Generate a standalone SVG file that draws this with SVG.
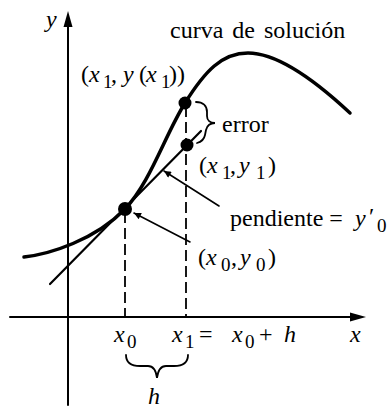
<svg xmlns="http://www.w3.org/2000/svg" width="392" height="408" viewBox="0 0 392 408" font-family="Liberation Serif, Times New Roman, DejaVu Serif, serif">
<style>
text{font-family:'Liberation Serif','Times New Roman','DejaVu Serif',serif;font-size:24px;fill:#000}
.i{font-style:italic}
.s{font-size:19px}
.ln{stroke:#000;fill:none;stroke-linecap:round}
</style>
<defs>
<marker id="ah" viewBox="0 0 10 10" refX="10" refY="5" markerWidth="9" markerHeight="7" markerUnits="userSpaceOnUse" orient="auto"><path d="M0,0 L10,5 L0,10 z" fill="#000"/></marker>
</defs>
<rect width="392" height="408" fill="#fff"/>
<g id="axes">
<line class="ln" x1="68" y1="405" x2="68" y2="24" stroke-width="2"/>
<path d="M68,11 L72.5,27 L63.5,27 z" fill="#000"/>
<line class="ln" x1="10" y1="317" x2="354" y2="317" stroke-width="2"/>
<path d="M366,317 L350,312.5 L350,321.5 z" fill="#000"/>
<text class="i" x="46" y="27">y</text>
<text class="i" x="350" y="342">x</text>
</g>
<g id="curve">
<path class="ln" stroke-width="3.5" d="M24,257 C50,254 95,240 125,209 C150,183 165,135 185,103 C205,71 222,53 248,53 C280,53 320,85 350,113"/>
<text x="170" y="38" word-spacing="3">curva de solución</text>
</g>
<g id="tangent">
<line class="ln" x1="50" y1="284" x2="201" y2="131" stroke-width="2.2"/>
</g>
<g id="dashes">
<line x1="125" y1="212" x2="125" y2="317" stroke="#000" stroke-width="1.8" stroke-dasharray="11 5"/>
<line x1="186" y1="106" x2="186" y2="317" stroke="#000" stroke-width="1.8" stroke-dasharray="11 5"/>
</g>
<g id="p-x1yx1">
<circle cx="185" cy="103" r="6.5" fill="#000"/>
<text x="81" y="82">(<tspan class="i" x="89">x</tspan><tspan class="s" x="103" dy="6">1</tspan><tspan x="111" dy="-6">,</tspan><tspan class="i" x="123">y</tspan><tspan x="139">(</tspan><tspan class="i" x="146">x</tspan><tspan class="s" x="161" dy="6">1</tspan><tspan x="169" dy="-6">))</tspan></text>
</g>
<g id="p-x1y1">
<circle cx="187" cy="145" r="6.5" fill="#000"/>
<text x="199" y="173">(<tspan class="i" x="207">x</tspan><tspan class="s" x="222" dy="6">1</tspan><tspan x="230" dy="-6">,</tspan><tspan class="i" x="239">y</tspan><tspan class="s" x="256" dy="6">1</tspan><tspan x="268" dy="-6">)</tspan></text>
</g>
<g id="p-x0y0">
<circle cx="125" cy="209" r="7" fill="#000"/>
<text x="198" y="265">(<tspan class="i" x="206">x</tspan><tspan class="s" x="221" dy="6">0</tspan><tspan x="231" dy="-6">,</tspan><tspan class="i" x="240">y</tspan><tspan class="s" x="256" dy="6">0</tspan><tspan x="268" dy="-6">)</tspan></text>
</g>
<g id="error">
<path class="ln" stroke-width="1.8" d="M196,102 C203,102 207,106 207,112 L207,116 C207,120 210,123 215,123 C210,123 207,126 206,130 L205,135 C204,140 201,142 197,143"/>
<text x="222" y="132">error</text>
</g>
<g id="pendiente">
<text x="230" y="226">pendiente = <tspan class="i" x="355">y</tspan><tspan x="369" dy="-2">′</tspan><tspan class="s" x="377" dy="8">0</tspan></text>
</g>
<g id="xlabels">
<text class="i" x="114" y="342">x<tspan class="s" style="font-style:normal" x="127" dy="6">0</tspan></text>
<text class="i" x="172" y="342">x<tspan class="s" style="font-style:normal" x="185" dy="6">1</tspan><tspan style="font-style:normal" x="199" dy="-6">=</tspan><tspan x="232">x</tspan><tspan class="s" style="font-style:normal" x="245" dy="6">0</tspan><tspan style="font-style:normal" x="259" dy="-6">+</tspan><tspan x="284">h</tspan></text>
<path class="ln" stroke-width="1.8" d="M126,355 C126,362 131,366 140,366 L148,366 C153,366 156,370 157,378 C158,370 161,366 166,366 L174,366 C183,366 188,362 188,355"/>
<text class="i" x="148" y="404">h</text>
</g>
<g id="connectors">
<line class="ln" x1="219" y1="206" x2="164" y2="171" stroke-width="1.6" marker-end="url(#ah)"/>
<line class="ln" x1="190" y1="242" x2="134" y2="213" stroke-width="1.6" marker-end="url(#ah)"/>
</g>
</svg>
